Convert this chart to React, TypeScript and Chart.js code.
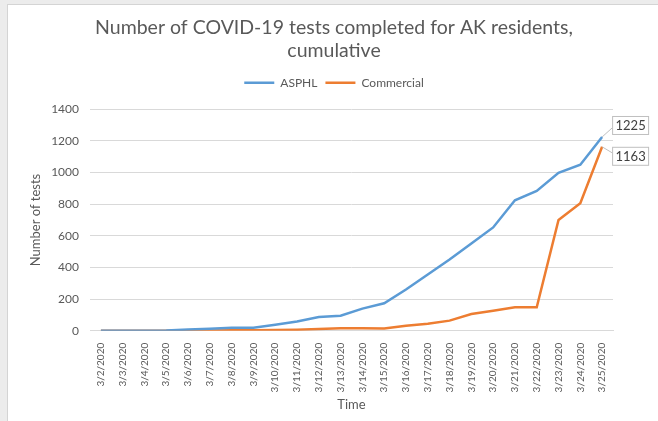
import React, { useEffect, useRef } from "react";
import { Chart, registerables } from "chart.js";

Chart.register(...registerables);

const dates = [
  "3/2/2020", "3/3/2020", "3/4/2020", "3/5/2020", "3/6/2020", "3/7/2020",
  "3/8/2020", "3/9/2020", "3/10/2020", "3/11/2020", "3/12/2020", "3/13/2020",
  "3/14/2020", "3/15/2020", "3/16/2020", "3/17/2020", "3/18/2020", "3/19/2020",
  "3/20/2020", "3/21/2020", "3/22/2020", "3/23/2020", "3/24/2020", "3/25/2020",
];

const asphl = [
  0, 0, 0, 2, 8, 12, 19, 19, 38, 59, 87, 95,
  140, 174, 261, 356, 450, 551, 653, 825, 884, 998, 1050, 1225,
];

const commercial = [
  0, 0, 0, 0, 1, 2, 3, 3, 5, 7, 11, 16,
  16, 15, 32, 45, 64, 106, 127, 148, 148, 700, 806, 1163,
];

const yTicks = [0, 200, 400, 600, 800, 1000, 1200, 1400];

const FONT = "Lato, 'Open Sans', sans-serif";
const TEXT = "#595959";
const GRID = "#d9d9d9";

const legendSpacer = {
  id: "legendSpacer",
  afterInit(chart: any) {
    const lg = chart.legend;
    if (!lg) return;
    const orig = lg.fit;
    lg.fit = function (this: any) {
      orig.call(this);
      this.height += 10.5;
    };
  },
};

const calloutPlugin = {
  id: "callouts",
  afterDatasetsDraw(chart: any) {
    const ctx = chart.ctx;
    chart.data.datasets.forEach((ds: any, i: number) => {
      const meta = chart.getDatasetMeta(i);
      const last = meta.data.length - 1;
      const p = meta.data[last];
      if (!p) return;
      const val = ds.data[last];
      const w = 36;
      const h = 18;
      const bx = p.x + 10;
      const by = i === 0 ? p.y - 21 : p.y;
      ctx.save();
      ctx.strokeStyle = "#bfbfbf";
      ctx.lineWidth = 1;
      ctx.beginPath();
      if (i === 0) {
        ctx.moveTo(p.x, p.y);
        ctx.lineTo(bx, by + h - 6);
      } else {
        ctx.moveTo(p.x, p.y);
        ctx.lineTo(bx, by + 6);
      }
      ctx.stroke();
      ctx.fillStyle = "#ffffff";
      ctx.fillRect(bx, by, w, h);
      ctx.strokeStyle = "#bfbfbf";
      ctx.strokeRect(bx + 0.5, by + 0.5, w, h);
      ctx.fillStyle = "#404040";
      ctx.font = `13px ${FONT}`;
      ctx.textAlign = "center";
      ctx.textBaseline = "middle";
      ctx.fillText(String(val), bx + w / 2 + 0.5, by + h / 2 + 1);
      ctx.restore();
    });
  },
};

export default function App() {
  const ref = useRef<HTMLCanvasElement | null>(null);

  useEffect(() => {
    if (!ref.current) return;
    const chart = new Chart(ref.current, {
      type: "line",
      data: {
        labels: dates,
        datasets: [
          {
            label: "ASPHL",
            data: asphl,
            borderColor: "#5b9bd5",
            backgroundColor: "#5b9bd5",
            borderWidth: 2.5,
            pointRadius: 0,
            tension: 0,
            yAxisID: "y",
          },
          {
            label: "Commercial",
            data: commercial,
            borderColor: "#ed7d31",
            backgroundColor: "#ed7d31",
            borderWidth: 2.5,
            pointRadius: 0,
            tension: 0,
            yAxisID: "y",
          },
        ],
      },
      options: {
        animation: false,
        responsive: false,
        layout: { padding: { left: 2, right: 0, top: 0, bottom: 8 } },
        plugins: {
          title: {
            display: true,
            text: ["Number of COVID-19 tests completed for AK residents,", "cumulative"],
            color: TEXT,
            font: { family: FONT, size: 19.5, weight: "normal" },
            lineHeight: 1.18,
            padding: { top: 11, bottom: 6 },
          },
          legend: {
            display: true,
            labels: {
              usePointStyle: true,
              pointStyle: "line",
              pointStyleWidth: 30,
              boxWidth: 30,
              boxHeight: 12,
              color: TEXT,
              font: { family: FONT, size: 12 },
              padding: 8,
            },
          },
          tooltip: { enabled: false },
        },
        scales: {
          x: {
            offset: true,
            grid: { display: false },
            border: { display: true, color: GRID },
            ticks: {
              color: TEXT,
              font: { family: FONT, size: 10 },
              maxRotation: 90,
              minRotation: 90,
              autoSkip: false,
              padding: 4,
            },
            title: {
              display: true,
              text: "Time",
              color: TEXT,
              font: { family: FONT, size: 13 },
              padding: { top: 1, bottom: 0 },
            },
          },
          y: {
            min: 0,
            max: 1400,
            afterBuildTicks: (axis: any) => {
              axis.ticks = yTicks.map((v) => ({ value: v }));
            },
            afterFit: (axis: any) => {
              axis.width = 80;
            },
            grid: { color: GRID, drawTicks: false },
            border: { display: false },
            ticks: {
              color: TEXT,
              font: { family: FONT, size: 12 },
              padding: 11,
              callback: (v: any) => String(v),
            },
            title: {
              display: true,
              text: "Number of tests",
              color: TEXT,
              font: { family: FONT, size: 13 },
              padding: { top: 18, bottom: 0 },
            },
          },
          yRight: {
            position: "right",
            display: true,
            min: 0,
            max: 1400,
            grid: { display: false },
            border: { display: false },
            ticks: { display: false },
            afterFit: (axis: any) => {
              axis.width = 45;
            },
          },
        },
      },
      plugins: [legendSpacer, calloutPlugin],
    });
    return () => chart.destroy();
  }, []);

  return (
    <div
      style={{
        position: "fixed",
        inset: 0,
        background: "#ececec",
      }}
    >
      <div
        style={{
          position: "absolute",
          left: 7,
          top: 4,
          width: 651,
          height: 417,
          background: "#ffffff",
          borderLeft: "1px solid #d4d4d4",
          borderTop: "1px solid #d4d4d4",
          boxSizing: "border-box",
        }}
      >
        <canvas ref={ref} width={650} height={416} style={{ display: "block" }} />
      </div>
    </div>
  );
}
